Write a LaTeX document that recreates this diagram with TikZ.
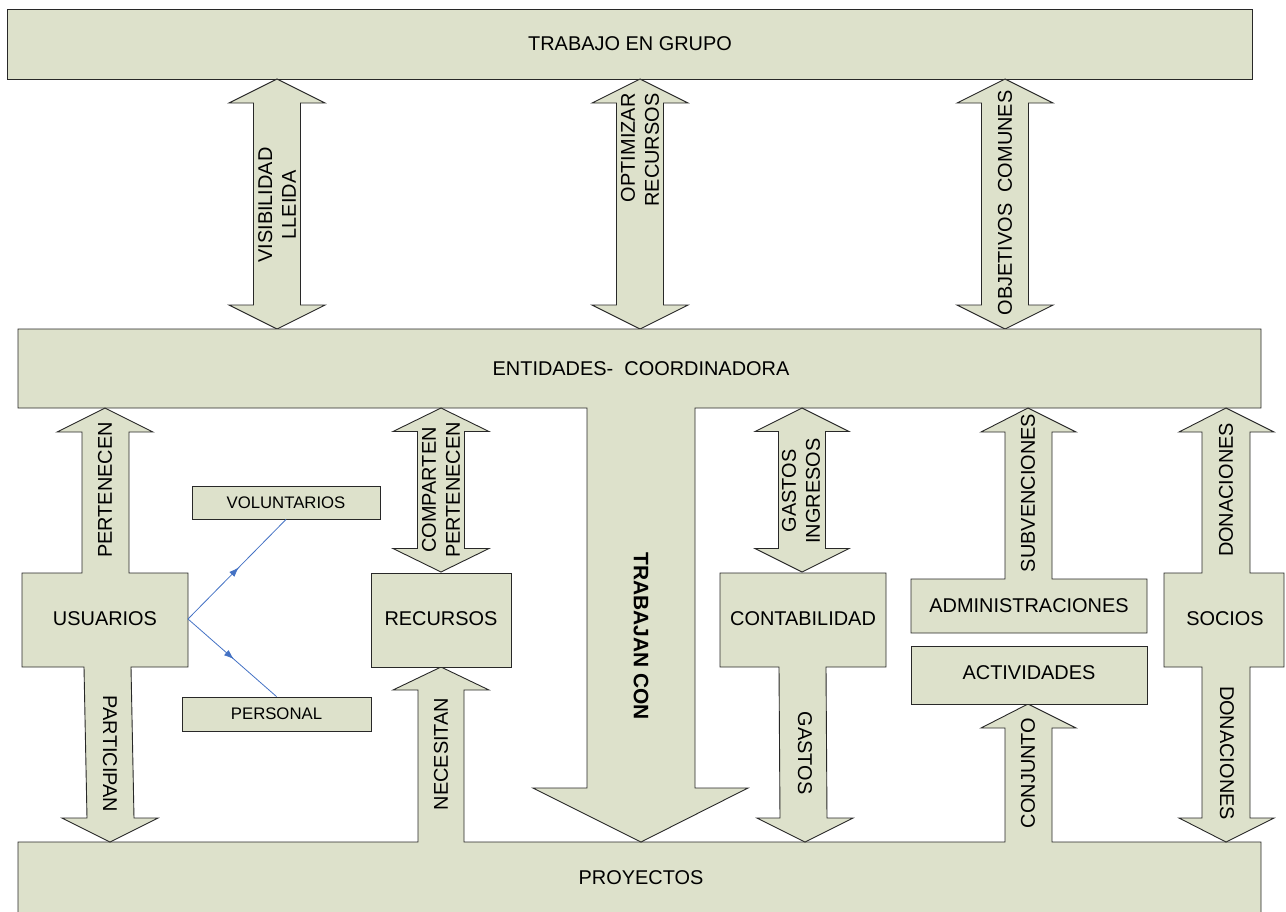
\documentclass[tikz,border=0pt]{standalone}
\usepackage{fontspec}
\setmainfont{Liberation Sans}
\usetikzlibrary{arrows.meta,decorations.markings}
\definecolor{boxfill}{RGB}{221,225,203}
\definecolor{edge}{RGB}{40,40,40}
\definecolor{linkblue}{RGB}{68,114,196}
\newcommand\dblarr[6]{%
  \draw[shp] (#1,#2) -- ({#1+#5},{#2+#6}) -- ({#1+#4},{#2+#6}) -- ({#1+#4},{#3-#6})
   -- ({#1+#5},{#3-#6}) -- (#1,#3) -- ({#1-#5},{#3-#6}) -- ({#1-#4},{#3-#6})
   -- ({#1-#4},{#2+#6}) -- ({#1-#5},{#2+#6}) -- cycle;}
\tikzset{
  shp/.style={draw=edge,fill=boxfill,line width=0.9bp,line join=miter},
  lbl/.style={font=\fontsize{20}{24}\selectfont,inner sep=0pt,align=center},
  smalllbl/.style={font=\fontsize{16.8}{20}\selectfont},
  up/.style={lbl,rotate=90},
  down/.style={lbl,rotate=-90},
  smallbox/.style={shp,smalllbl,inner sep=0pt},
  bluelink/.style={draw=linkblue,line width=0.8bp,
    decoration={markings,mark=at position 0.52 with {\arrow{Latex[length=10bp,width=7bp]}}},
    postaction={decorate}}
}
\begin{document}
\begin{tikzpicture}[x=1bp,y=-1bp]
\useasboundingbox (0,0) rectangle (1286,912);
% top box
\draw[shp] (7,9) rectangle (1252,79);
\node[lbl] (tg) at (630,44) {TRABAJO EN GRUPO};
% top double arrows
\dblarr{277}{79}{329}{23.5}{48}{24}
\dblarr{640}{79}{329}{23.5}{48}{24}
\dblarr{1005}{79}{329}{23.5}{48}{24}
\node[up] (vis) at (277,205) {VISIBILIDAD\\LLEIDA};
\node[up,align=right] (opt) at (640,150) {OPTIMIZAR\\RECURSOS};
\node[up] (obj) at (1005,203) {OBJETIVOS\ \ COMUNES};
% proyectos merged with NECESITAN and CONJUNTO
\draw[shp] (18,842) -- (418,842) -- (418,690) -- (393,690) -- (441,667) -- (489,690)
  -- (464,690) -- (464,842) -- (1005,842) -- (1005,728) -- (981,728) -- (1028,704)
  -- (1076,728) -- (1052,728) -- (1052,842) -- (1261,842) -- (1261,916) -- (18,916) -- cycle;
\node[lbl] (proy) at (641,878) {PROYECTOS};
\node[up] (nec) at (441,754) {NECESITAN};
\node[up] (conj) at (1028,773) {CONJUNTO};
% entidades merged with TRABAJAN CON
\draw[shp] (18,329) -- (1261,329) -- (1261,408) -- (695,408) -- (695,788) -- (748,788)
  -- (641,842) -- (533,788) -- (587,788) -- (587,408) -- (18,408) -- cycle;
\node[lbl] (ent) at (641,369) {ENTIDADES-\ \ COORDINADORA};
\node[down,font=\fontsize{21}{24}\selectfont\bfseries] (trab) at (641,636) {TRABAJAN CON};
% usuarios
\draw[shp] (22,573) -- (82,573) -- (82,432) -- (57,432) -- (105,408) -- (153,432)
  -- (129,432) -- (129,573) -- (188,573) -- (188,667) -- (131,667) -- (134,818)
  -- (158,818) -- (110,842) -- (62,818) -- (87,818) -- (84,667) -- (22,667) -- cycle;
\node[lbl] (usu) at (105,619) {USUARIOS};
\node[up] (pert) at (105,490) {PERTENECEN};
\node[down] (part) at (110,754) {PARTICIPAN};
\coordinate (usuE) at (188,619);
% voluntarios / personal
\node[smallbox,minimum width=188bp,minimum height=33bp] (vol) at (286,502.5) {VOLUNTARIOS};
\node[smallbox,minimum width=189bp,minimum height=34bp] (per) at (276.5,714) {PERSONAL};
\draw[bluelink] (usuE) -- (vol.south);
\draw[bluelink] (usuE) -- (per.north);
% recursos
\draw[shp] (371,573) rectangle (511,667);
\node[lbl] (rec) at (441,619) {RECURSOS};
\dblarr{441}{408}{572}{23.5}{48}{23.5}
\node[up] (comp) at (441,490) {COMPARTEN\\PERTENECEN};
% contabilidad
\draw[shp] (720,573) -- (886,573) -- (886,667) -- (826,667) -- (827,818) -- (853,818)
  -- (805,842) -- (757,818) -- (780,818) -- (779,667) -- (720,667) -- cycle;
\node[lbl] (cont) at (803,619) {CONTABILIDAD};
\node[down] (gas) at (805,753) {GASTOS};
\dblarr{802}{408}{572}{23.5}{47}{23.5}
\node[up] (gi) at (801,491) {GASTOS\\INGRESOS};
% administraciones
\draw[shp] (911,579) -- (1005,579) -- (1005,432) -- (981,432) -- (1028,408) -- (1076,432)
  -- (1052,432) -- (1052,579) -- (1147,579) -- (1147,633) -- (911,633) -- cycle;
\node[lbl] (adm) at (1029,606) {ADMINISTRACIONES};
\node[up] (sub) at (1028,493) {SUBVENCIONES};
\draw[shp] (911,646) rectangle (1147,704);
\node[lbl] (act) at (1029,673) {ACTIVIDADES};
% socios
\draw[shp] (1164,573) -- (1202,573) -- (1202,432) -- (1179,432) -- (1226,408) -- (1274,432)
  -- (1250,432) -- (1250,573) -- (1284,573) -- (1284,667) -- (1250,667) -- (1250,818)
  -- (1274,818) -- (1226,842) -- (1179,818) -- (1202,818) -- (1202,667) -- (1164,667) -- cycle;
\node[lbl] (soc) at (1225,619) {SOCIOS};
\node[up] (don1) at (1226,490) {DONACIONES};
\node[down] (don2) at (1227,753) {DONACIONES};
\end{tikzpicture}
\end{document}
